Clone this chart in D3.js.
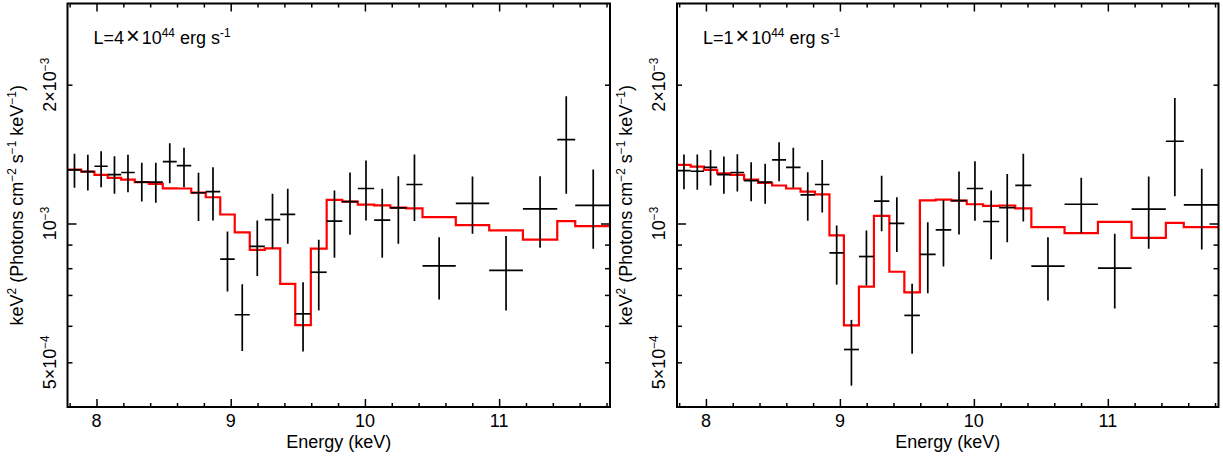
<!DOCTYPE html>
<html>
<head>
<meta charset="utf-8">
<script src="https://cdn.jsdelivr.net/npm/d3@7"></script>
<style>
  body { margin: 0; background: #fff; }
  svg { display: block; }
  text { font-family: "Liberation Sans", Arial, Helvetica, sans-serif; fill: #000; }
</style>
</head>
<body>
<svg id="chart" width="1223" height="456"></svg>
<script>
// energy bin edges shared by both spectra (keV)
const binEdges = [7.786, 7.886, 7.985, 8.084, 8.184, 8.285, 8.390, 8.494, 8.598, 8.706,
  8.814, 8.922, 9.030, 9.142, 9.254, 9.369, 9.481, 9.597, 9.715, 9.831, 9.947,
  10.069, 10.189, 10.309, 10.429, 10.677, 10.926, 11.177, 11.433, 11.567, 11.835];

// L = 4e44 erg/s  (units of 1e-3)
const fluxA  = [1.307, 1.296, 1.331, 1.277, 1.290, 1.229, 1.229, 1.362, 1.335, 1.166, 1.173, 0.837, 0.634, 0.892, 1.020,
  1.047, 0.637, 0.784, 1.012, 1.116, 1.191, 1.017, 1.081, 1.215, 0.809, 1.106, 0.791, 1.076, 1.520, 1.095];
const hiA    = [1.416, 1.409, 1.435, 1.399, 1.409, 1.354, 1.354, 1.493, 1.459, 1.288, 1.324, 0.961, 0.738, 1.015, 1.160,
  1.189, 0.746, 0.922, 1.179, 1.290, 1.369, 1.189, 1.266, 1.411, 0.934, 1.264, 0.939, 1.266, 1.887, 1.309];
const loA    = [1.195, 1.179, 1.198, 1.160, 1.169, 1.116, 1.109, 1.223, 1.198, 1.012, 1.015, 0.712, 0.529, 0.769, 0.882,
  0.904, 0.528, 0.648, 0.843, 0.945, 1.015, 0.843, 0.904, 1.012, 0.684, 0.950, 0.648, 0.886, 1.160, 0.882];
const modelA = [1.309, 1.296, 1.275, 1.256, 1.245, 1.229, 1.219, 1.192, 1.191, 1.167, 1.140, 1.046, 0.957, 0.877, 0.883,
  0.740, 0.602, 0.882, 1.125, 1.116, 1.099, 1.095, 1.083, 1.078, 1.032, 0.992, 0.966, 0.923, 1.012, 0.987];

// L = 1e44 erg/s  (units of 1e-3)
const fluxB  = [1.302, 1.298, 1.324, 1.277, 1.290, 1.239, 1.229, 1.374, 1.324, 1.154, 1.215, 0.864, 0.533, 0.848, 1.118,
  1.001, 0.632, 0.857, 0.969, 1.121, 1.191, 1.010, 1.083, 1.210, 0.808, 1.101, 0.800, 1.074, 1.508, 1.098];
const hiB    = [1.411, 1.411, 1.444, 1.397, 1.413, 1.358, 1.347, 1.500, 1.459, 1.291, 1.374, 0.990, 0.618, 0.966, 1.269,
  1.140, 0.740, 1.006, 1.125, 1.296, 1.364, 1.179, 1.281, 1.416, 0.934, 1.256, 0.950, 1.264, 1.872, 1.314];
const loB    = [1.187, 1.183, 1.209, 1.160, 1.173, 1.118, 1.103, 1.235, 1.195, 1.014, 1.056, 0.737, 0.445, 0.734, 0.962,
  0.867, 0.522, 0.706, 0.807, 0.947, 1.014, 0.836, 0.911, 1.010, 0.681, 0.953, 0.654, 0.882, 1.146, 0.878];
const modelB = [1.340, 1.329, 1.307, 1.285, 1.275, 1.245, 1.225, 1.209, 1.191, 1.173, 1.157, 0.942, 0.601, 0.730, 1.039,
  0.786, 0.709, 1.123, 1.127, 1.121, 1.101, 1.092, 1.094, 1.079, 0.982, 0.953, 1.008, 0.931, 1.003, 0.982];

// axis ticks and labels
const xMajor = [8, 9, 10, 11];
const xMinor = d3.range(7.8, 11.81, 0.2).map(v => +v.toFixed(1)).filter(v => !xMajor.includes(v));
const yMajor = [1];
const yMinor = [0.5, 0.6, 0.7, 0.8, 0.9, 2];
const yLabelVals = [0.5, 1, 2];
const yLabels = [[["5×10", 0], ["−4", 1]], [["10", 0], ["−3", 1]], [["2×10", 0], ["−3", 1]]];
const yTitle = [["keV", 0], ["2", 1], [" (Photons cm", 0], ["−2", 1], [" s", 0], ["−1", 1], [" keV", 0], ["−1", 1], [")", 0]];
const annA = [["L=4", 0], ["×", 2], ["10", 0], ["44", 1], [" erg s", 0], ["-1", 1]];
const annB = [["L=1", 0], ["×", 2], ["10", 0], ["44", 1], [" erg s", 0], ["-1", 1]];

const svg = d3.select("#chart");
const plotTop = 3.5, plotBottom = 407;
const fs = 18;

// text with superscripts; kind 1 = superscript, 2 = wide multiplication sign
function richText(sel, parts, size) {
  parts.forEach((p, i) => {
    const t = sel.append("tspan").text(p[0]);
    if (p[1] === 1) t.attr("baseline-shift", "super").style("font-size", (size * 0.66) + "px");
    if (p[1] === 2) t.attr("dx", 2).style("font-size", (size * 1.3) + "px");
    if (i > 0 && parts[i - 1][1] === 2) t.attr("dx", 2);
  });
}

function drawPanel(id, left, right, flux, lo, hi, model, ann) {
  const x = d3.scaleLinear().domain([7.784, 11.826]).range([left, right]);
  const y = d3.scaleLog().domain([0.4, 3]).range([plotBottom, plotTop]);
  const g = svg.append("g");

  g.append("clipPath").attr("id", "clip" + id)
    .append("rect").attr("x", left).attr("y", plotTop).attr("width", right - left).attr("height", plotBottom - plotTop);

  // ticks on all four sides, pointing inward
  const tickAxes = [
    [d3.axisBottom(x).tickValues(xMajor).tickSize(-8), `translate(0,${plotBottom})`],
    [d3.axisBottom(x).tickValues(xMinor).tickSize(-4), `translate(0,${plotBottom})`],
    [d3.axisTop(x).tickValues(xMajor).tickSize(-8), `translate(0,${plotTop})`],
    [d3.axisTop(x).tickValues(xMinor).tickSize(-4), `translate(0,${plotTop})`],
    [d3.axisLeft(y).tickValues(yMajor).tickSize(-9), `translate(${left},0)`],
    [d3.axisLeft(y).tickValues(yMinor).tickSize(-5), `translate(${left},0)`],
    [d3.axisRight(y).tickValues(yMajor).tickSize(-9), `translate(${right},0)`],
    [d3.axisRight(y).tickValues(yMinor).tickSize(-5), `translate(${right},0)`]
  ];
  tickAxes.forEach(a => {
    const ax = g.append("g").attr("transform", a[1]).call(a[0].tickFormat(""));
    ax.select(".domain").remove();
    ax.selectAll("line").attr("stroke", "#000").attr("stroke-width", 1.5);
  });

  // x tick labels
  g.selectAll(".xlab").data(xMajor).join("text")
    .attr("x", d => x(d)).attr("y", 427)
    .attr("text-anchor", "middle").style("font-size", fs + "px")
    .text(d => d);

  // y tick labels, rotated
  g.selectAll(".ylab").data(yLabelVals).join("text")
    .attr("transform", d => `translate(${left - 12},${y(d)}) rotate(-90)`)
    .attr("text-anchor", "middle").style("font-size", fs + "px")
    .each(function (d, i) { richText(d3.select(this), yLabels[i], fs); });

  // axis titles
  g.append("text")
    .attr("x", (left + right) / 2).attr("y", 448)
    .attr("text-anchor", "middle").style("font-size", fs + "px")
    .text("Energy (keV)");
  g.append("text")
    .attr("transform", `translate(${left - 45},${(plotTop + plotBottom) / 2}) rotate(-90)`)
    .attr("text-anchor", "middle").style("font-size", fs + "px")
    .call(t => richText(t, yTitle, fs));

  // annotation
  g.append("text").attr("x", left + 26).attr("y", 44).style("font-size", fs + "px")
    .call(t => richText(t, ann, fs));

  const plot = g.append("g").attr("clip-path", `url(#clip${id})`);

  // model, step per bin
  const steps = model.map((m, i) => [binEdges[i], m]);
  steps.push([binEdges[binEdges.length - 1], model[model.length - 1]]);
  plot.append("path")
    .attr("d", d3.line().x(d => x(d[0])).y(d => y(d[1])).curve(d3.curveStepAfter)(steps))
    .attr("fill", "none").attr("stroke", "#ff0000").attr("stroke-width", 2.2);

  // data crosses
  const pts = flux.map((f, i) => ({ e0: binEdges[i], e1: binEdges[i + 1], f: f, lo: lo[i], hi: hi[i] }));
  plot.selectAll(".hbar").data(pts).join("line")
    .attr("x1", d => x(d.e0)).attr("x2", d => x(d.e1))
    .attr("y1", d => y(d.f)).attr("y2", d => y(d.f))
    .attr("stroke", "#000").attr("stroke-width", 1.7);
  plot.selectAll(".vbar").data(pts).join("line")
    .attr("x1", d => x((d.e0 + d.e1) / 2)).attr("x2", d => x((d.e0 + d.e1) / 2))
    .attr("y1", d => y(d.lo)).attr("y2", d => y(d.hi))
    .attr("stroke", "#000").attr("stroke-width", 1.7);

  // frame
  g.append("rect")
    .attr("x", left).attr("y", plotTop).attr("width", right - left).attr("height", plotBottom - plotTop)
    .attr("fill", "none").attr("stroke", "#000").attr("stroke-width", 2);
}

drawPanel("A", 67.5, 610, fluxA, loA, hiA, modelA, annA);
drawPanel("B", 677, 1218.5, fluxB, loB, hiB, modelB, annB);
</script>
</body>
</html>
